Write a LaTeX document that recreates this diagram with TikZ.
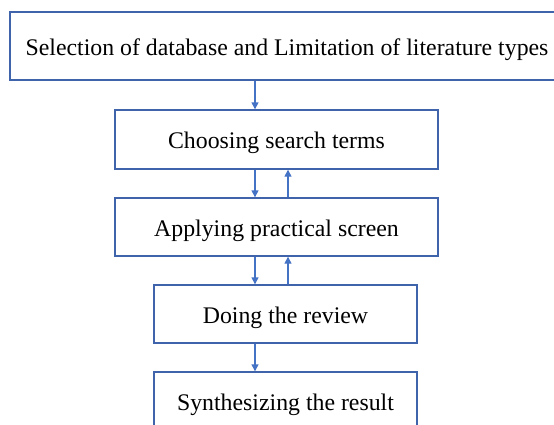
\documentclass[tikz,border=0pt]{standalone}
\usepackage{fontspec}
\setmainfont{Liberation Serif}
\usetikzlibrary{arrows.meta}
\definecolor{boxblue}{HTML}{3F64AC}
\definecolor{arrblue}{HTML}{4472C4}
\begin{document}
\begin{tikzpicture}[x=1pt,y=-1pt,
  stepbox/.style={draw=boxblue, line width=1.4pt, rectangle, inner sep=0pt,
    text height=18.5pt, text depth=0pt,
    font=\fontsize{23.8}{28}\selectfont, text=black},
  arr/.style={draw=arrblue, line width=1.4pt, -{Triangle[length=7pt,width=7pt]}}]
\useasboundingbox (0,0) rectangle (554,424);
\node[stepbox, minimum width=554pt, minimum height=68pt] (b1) at (287,46) {Selection of database and Limitation of literature types};
\node[stepbox, minimum width=323pt, minimum height=59pt] (b2) at (276.5,139.5) {Choosing search terms};
\node[stepbox, minimum width=323pt, minimum height=58pt] (b3) at (276.5,227) {Applying practical screen};
\node[stepbox, minimum width=263pt, minimum height=58pt] (b4) at (285.5,314) {Doing the review};
\node[stepbox, minimum width=263pt, minimum height=58pt] (b5) at (285.5,401) {Synthesizing the result};
\coordinate (xd) at (255,0);
\coordinate (xu) at (288,0);
\draw[arr] (b1.south -| xd) -- (b2.north -| xd);
\draw[arr] (b2.south -| xd) -- (b3.north -| xd);
\draw[arr] (b3.north -| xu) -- (b2.south -| xu);
\draw[arr] (b3.south -| xd) -- (b4.north -| xd);
\draw[arr] (b4.north -| xu) -- (b3.south -| xu);
\draw[arr] (b4.south -| xd) -- (b5.north -| xd);
\end{tikzpicture}
\end{document}
